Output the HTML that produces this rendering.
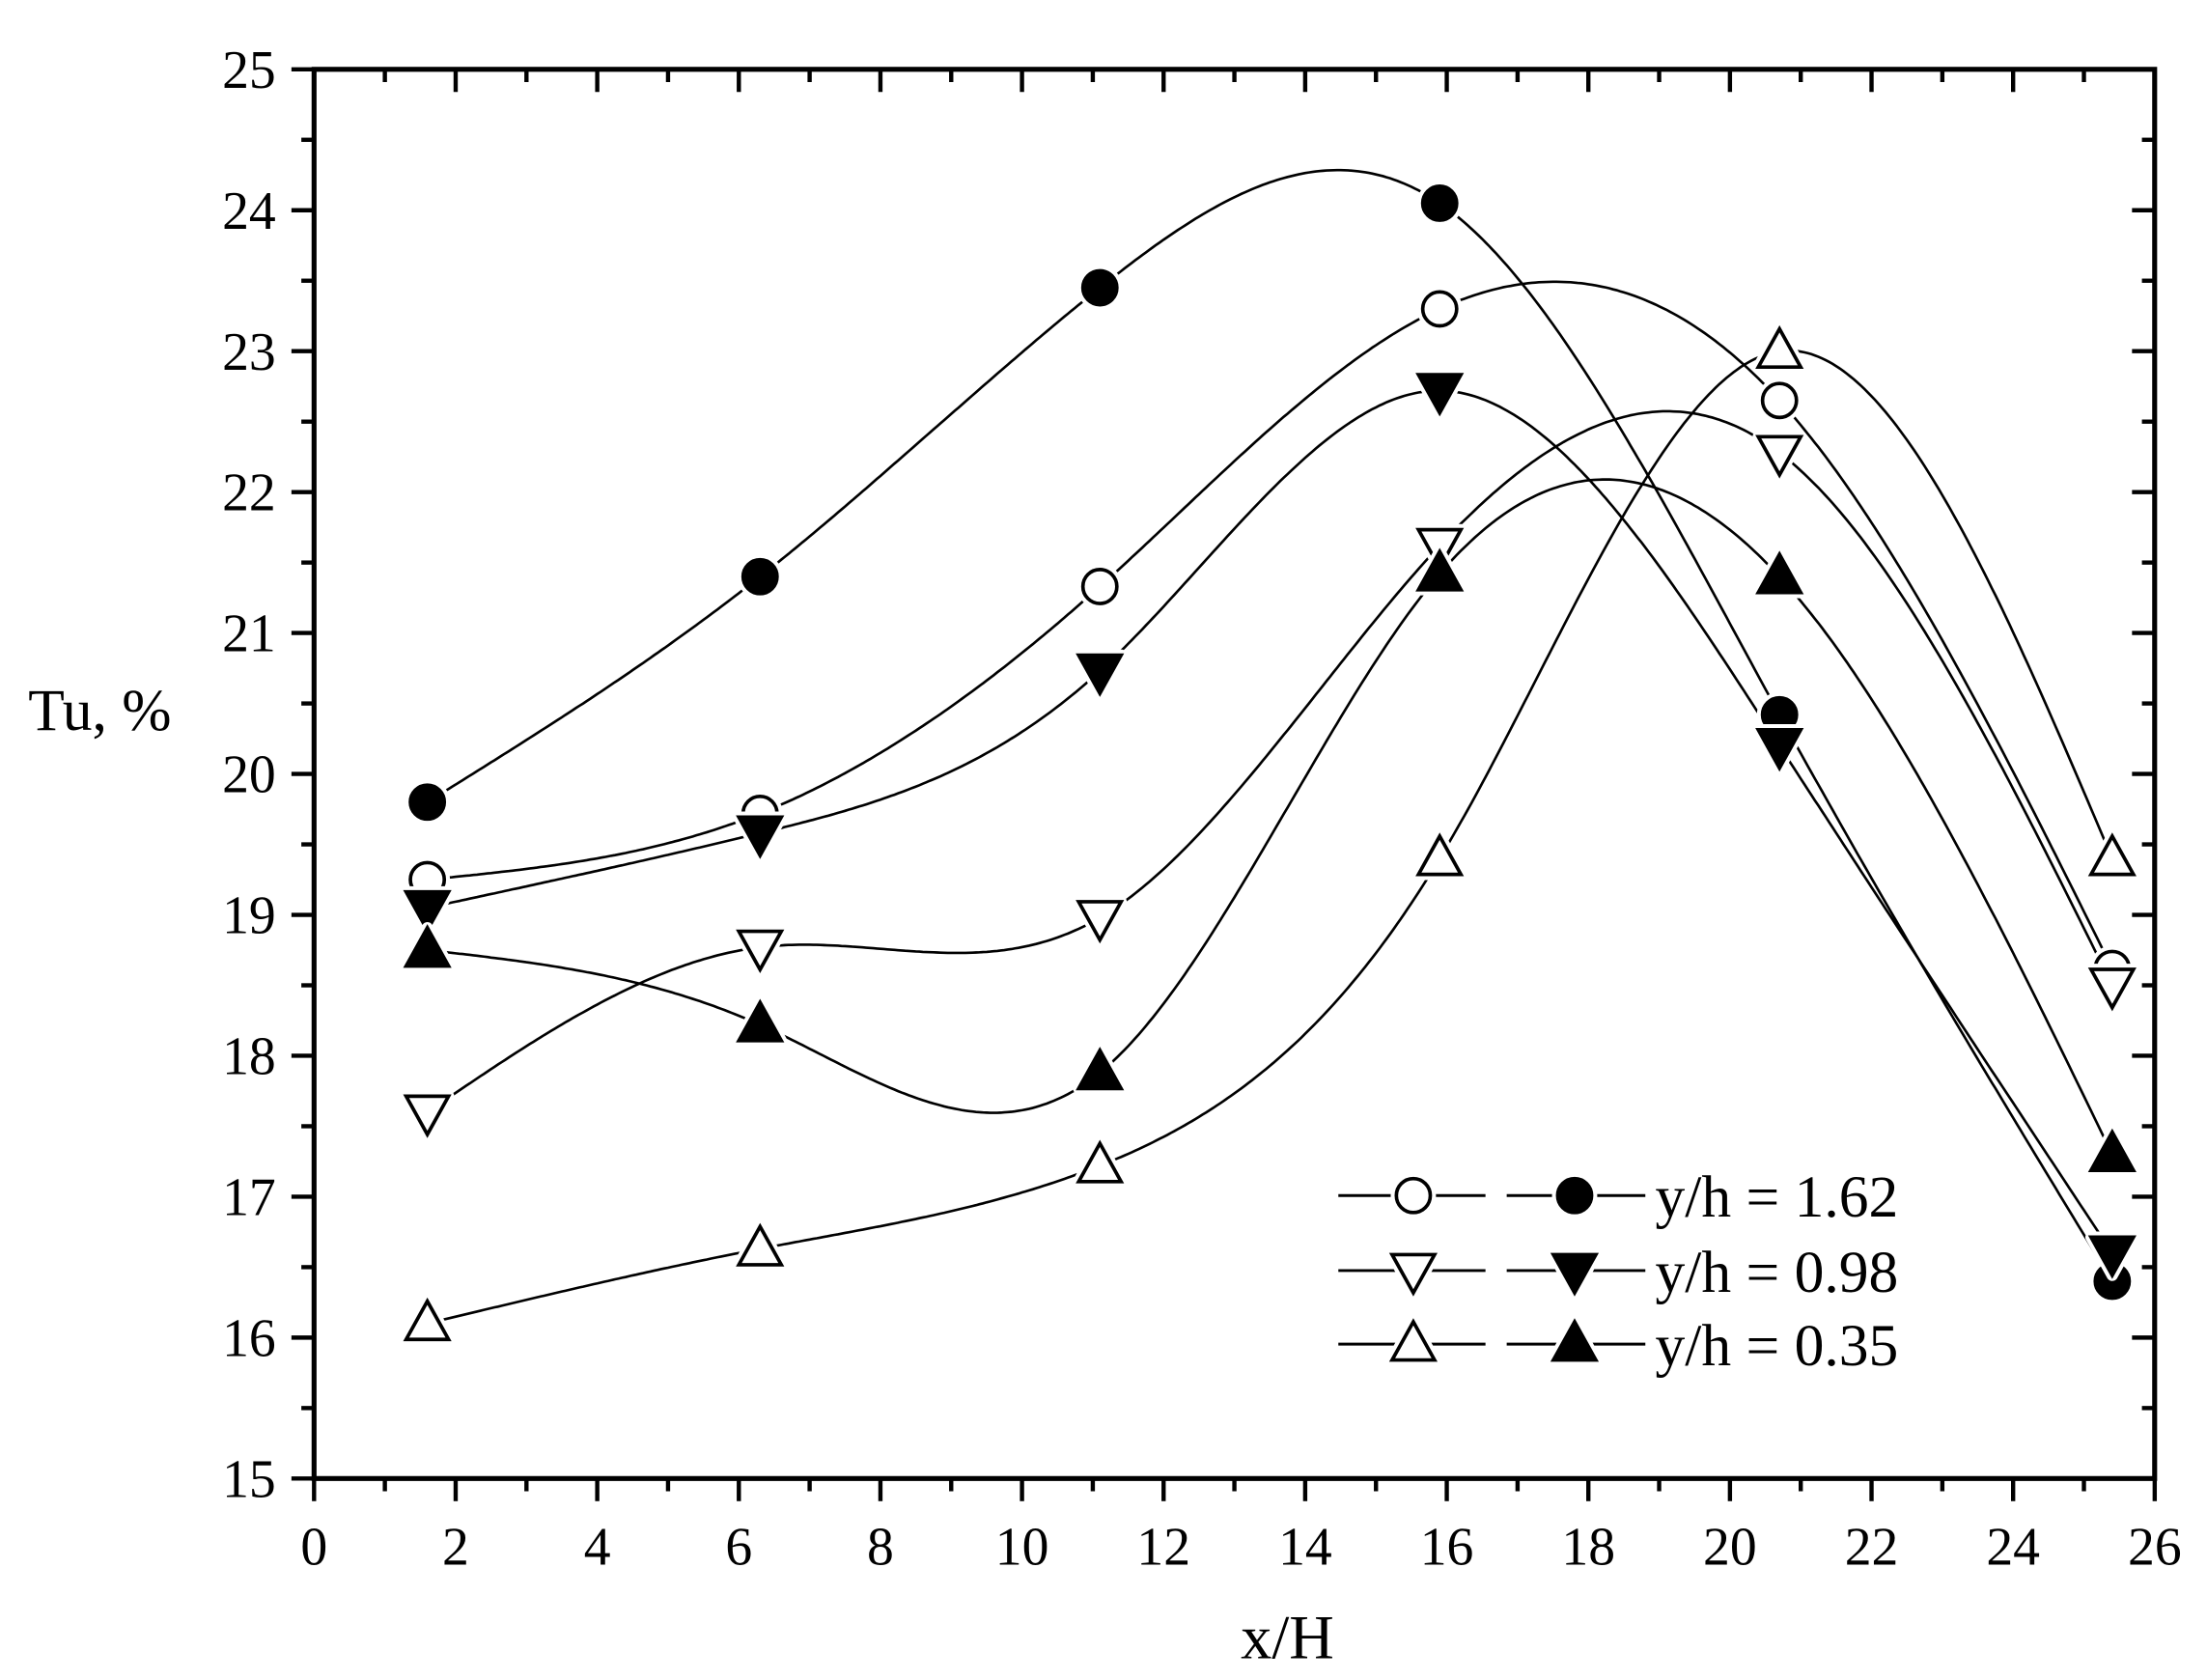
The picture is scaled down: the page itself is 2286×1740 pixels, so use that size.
<!DOCTYPE html>
<html><head><meta charset="utf-8"><style>
html,body{margin:0;padding:0;background:#fff}
svg{display:block}
text{font-family:"Liberation Serif",serif;fill:#000}
</style></head><body>
<svg id="s" width="2286" height="1740" viewBox="0 0 1560 1187.4" xmlns="http://www.w3.org/2000/svg"></svg>
<script>
const S=document.getElementById('s');let h='';
const X=v=>222+50.04*v, Y=v=>1045-99.6*(v-15);
h+=`<rect x="222" y="49" width="1301" height="996" fill="none" stroke="#000" stroke-width="3.5"/>`;
for(let v=0;v<=26;v++){const x=X(v),M=v%2==0,L=M?16:9;
 h+=`<line x1="${x}" y1="1045" x2="${x}" y2="${1045+L}" stroke="#000" stroke-width="3"/>`;
 h+=`<line x1="${x}" y1="49" x2="${x}" y2="${49+L}" stroke="#000" stroke-width="3"/>`;
 if(M)h+=`<text x="${x}" y="1106" font-size="38" text-anchor="middle">${v}</text>`;}
for(let k=0;k<=20;k++){const v=15+k/2,y=Y(v),M=k%2==0,L=M?16:9;
 h+=`<line x1="222" y1="${y}" x2="${222-L}" y2="${y}" stroke="#000" stroke-width="3"/>`;
 h+=`<line x1="1523" y1="${y}" x2="${1523-L}" y2="${y}" stroke="#000" stroke-width="3"/>`;
 if(M)h+=`<text x="195" y="${y+13}" font-size="38" text-anchor="end">${v}</text>`;}
h+=`<text x="20" y="516" font-size="42">Tu, %</text>`;
h+=`<text x="910" y="1172" font-size="44" text-anchor="middle">x/H</text>`;
const xs=[1.6,6.3,11.1,15.9,20.7,25.4];
const D=[
 ['fc',[19.8,21.4,23.45,24.05,20.42,16.4]],
 ['oc',[19.25,19.72,21.33,23.3,22.65,18.62]],
 ['fd',[19.05,19.58,20.73,22.72,20.2,16.6]],
 ['od',[17.6,18.77,18.98,21.62,22.28,18.5]],
 ['fu',[18.75,18.22,17.88,21.42,21.4,17.3]],
 ['ou',[16.1,16.63,17.22,19.4,23.0,19.4]]];
function spline(x,y){const n=x.length,M=new Array(n).fill(0);
 const hh=[];for(let i=0;i<n-1;i++)hh.push(x[i+1]-x[i]);
 const A=[],B=[],C=[],R=[];
 for(let i=1;i<n-1;i++){A.push(hh[i-1]);B.push(2*(hh[i-1]+hh[i]));C.push(hh[i]);R.push(6*((y[i+1]-y[i])/hh[i]-(y[i]-y[i-1])/hh[i-1]));}
 const m=B.length;for(let i=1;i<m;i++){const w=A[i]/B[i-1];B[i]-=w*C[i-1];R[i]-=w*R[i-1];}
 const z=new Array(m);z[m-1]=R[m-1]/B[m-1];for(let i=m-2;i>=0;i--)z[i]=(R[i]-C[i]*z[i+1])/B[i];
 for(let i=0;i<m;i++)M[i+1]=z[i];
 return t=>{let i=0;while(i<n-2&&t>x[i+1])i++;const H=hh[i],u=x[i+1]-t,v=t-x[i];
  return M[i]*u*u*u/(6*H)+M[i+1]*v*v*v/(6*H)+(y[i]/H-M[i]*H/6)*u+(y[i+1]/H-M[i+1]*H/6)*v;};}
function mk(t,x,y,r){const f=t[0]=='f'?'#000':'#fff',s=t[1];
 if(s=='c')return `<circle cx="${x}" cy="${y}" r="${r}" fill="#fff" stroke="#fff" stroke-width="8"/><circle cx="${x}" cy="${y}" r="${r}" fill="${f}" stroke="#000" stroke-width="2.5"/>`;
 const k=r*1.25;let p;
 if(s=='d')p=`${x-k},${y-k*0.75} ${x+k},${y-k*0.75} ${x},${y+k*1.05}`;
 else p=`${x-k},${y+k*0.75} ${x+k},${y+k*0.75} ${x},${y-k*1.05}`;
 return `<polygon points="${p}" fill="#fff" stroke="#fff" stroke-width="8" stroke-linejoin="round"/><polygon points="${p}" fill="${f}" stroke="#000" stroke-width="2.5"/>`;}
let mh='';
for(const [t,ys] of D){const f=spline(xs,ys);let p='';
 for(let v=xs[0];v<=xs[5]+1e-6;v+=0.05)p+=(p?'L':'M')+X(v).toFixed(1)+','+Y(f(v)).toFixed(1);
 h+=`<path d="${p}" fill="none" stroke="#000" stroke-width="1.8"/>`;
 xs.forEach((v,i)=>mh+=mk(t,X(v),Y(ys[i]),12));}
h+=mh;
const L=[[845,'c','1.62'],[898,'d','0.98'],[950,'u','0.35']];
for(const [y,s,l] of L){
 h+=`<line x1="946" y1="${y}" x2="1050" y2="${y}" stroke="#000" stroke-width="2"/>`;
 h+=`<line x1="1065" y1="${y}" x2="1163" y2="${y}" stroke="#000" stroke-width="2"/>`;
 h+=mk('o'+s,999,y,12)+mk('f'+s,1113,y,12);
 h+=`<text x="1170" y="${y+15}" font-size="42">y/h = ${l}</text>`;}
S.innerHTML=h;
</script>
</body></html>
